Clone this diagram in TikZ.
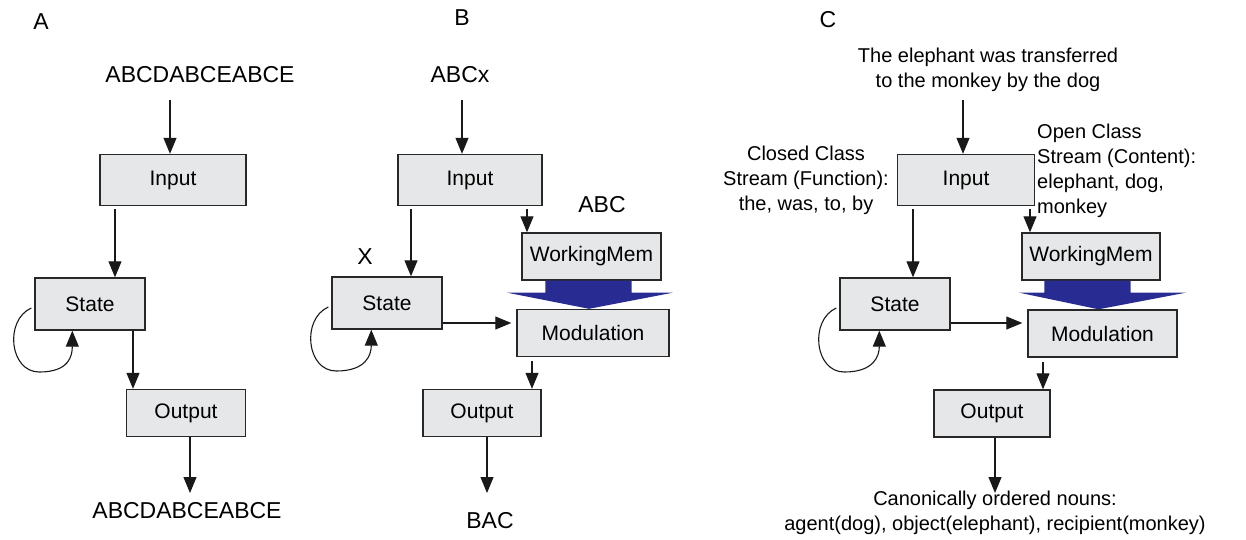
\documentclass[tikz,border=0pt]{standalone}
\usepackage{fontspec}
\setmainfont{Liberation Sans}
\usetikzlibrary{arrows.meta,calc}
\definecolor{boxfill}{RGB}{230,231,232}
\definecolor{boxline}{RGB}{40,40,40}
\definecolor{flowblue}{RGB}{40,44,146}
\begin{document}
\begin{tikzpicture}[x=1pt,y=-1pt,
  box/.style={draw=boxline,line width=1.4pt,fill=boxfill,minimum height=47pt,
    inner sep=0pt,font=\fontsize{21}{25}\selectfont},
  arr/.style={draw=black!90,line width=1.1pt,-{Triangle[length=16pt,width=13pt]}},
  seq/.style={font=\fontsize{23}{27}\selectfont,inner sep=0pt},
  note/.style={font=\fontsize{20}{25}\selectfont,inner sep=0pt,align=center},
  panel/.style={font=\fontsize{23}{27}\selectfont,inner sep=0pt},
  flow/.style={fill=flowblue}]
\useasboundingbox (0,0) rectangle (1246,539);

% ---------------- A: simple recurrent net ----------------
\node[panel] (labA) at (41,22) {A};
\node[seq] (seqA) at (200,75) {ABCDABCEABCE};
\node[box,minimum width=146pt,minimum height=51pt] (inA) at (173,180) {Input};
\node[box,minimum width=110pt,minimum height=52pt] (stA) at (90,304) {State};
\node[box,minimum width=119pt] (outA) at (186,413) {Output};
\node[seq] (resA) at (187,511) {ABCDABCEABCE};

\coordinate (tA) at (170,100);
\coordinate (xA1) at (115,0);
\coordinate (xA2) at (133,0);
\coordinate (xA3) at (190,0);
\coordinate (hA) at (190,493);
\draw[arr] (tA) -- (inA.north -| tA);
\draw[arr,shorten <=3pt] (inA.south -| xA1) -- (stA.north -| xA1);
\draw[arr] (stA.south -| xA2) -- (outA.north -| xA2);
\draw[arr] (outA.south -| xA3) -- (hA);
\draw[arr] ([xshift=-3pt,yshift=-4pt]stA.west) .. controls +(-27,12) and +(-30,0) .. ++(8,64)
  .. controls +(30,0) and +(0,25) .. ([xshift=38pt]stA.south west);

% ---------------- B: working memory modulation ----------------
\node[panel] (labB) at (462,18) {B};
\node[seq] (seqB) at (460,75) {ABCx};
\node[box,minimum width=144pt,minimum height=51pt] (inB) at (470,180) {Input};
\node[box,minimum width=110pt,minimum height=52pt] (stB) at (387,303) {State};
\node[box,minimum width=139pt] (wmB) at (591.5,256.5) {WorkingMem};
\node[box,minimum width=152pt] (modB) at (593,333) {Modulation};
\node[box,minimum width=118pt] (outB) at (482,413) {Output};
\node[seq] (resB) at (490,521) {BAC};
\node[seq] (xB) at (365,257) {X};
\node[seq] (abcB) at (602,205) {ABC};

\coordinate (tB) at (462,100);
\coordinate (xB1) at (411,0);
\coordinate (xB2) at (527,0);
\coordinate (yB3) at (0,323);
\coordinate (xB4) at (532,0);
\coordinate (xB5) at (487,0);
\coordinate (hB) at (487,493);
\draw[arr] (tB) -- (inB.north -| tB);
\draw[arr,shorten <=3pt] (inB.south -| xB1) -- (stB.north -| xB1);
\draw[arr,shorten <=3pt] (inB.south -| xB2) -- (wmB.north -| xB2);
\draw[arr,shorten >=5pt] (stB.east |- yB3) -- (modB.west |- yB3);
\draw[arr,shorten <=4pt] (modB.south -| xB4) -- (outB.north -| xB4);
\draw[arr] (outB.south -| xB5) -- (hB);
\draw[arr] ([xshift=-3pt,yshift=-4pt]stB.west) .. controls +(-27,12) and +(-30,0) .. ++(8,64)
  .. controls +(30,0) and +(0,25) .. ([xshift=40pt]stB.south west);
\fill[flow] ($(wmB.south west)+(24,0)$) -- ++(0,12) -- ++(-38,0)
  -- ([xshift=-4pt]modB.north) -- ($(wmB.south east)+(11,12)$) -- ++(-41,0)
  -- ++(0,-12) -- cycle;

% ---------------- C: sentence processing ----------------
\node[panel] (labC) at (828,20) {C};
\node[note] (sentC) at (988,70) {The elephant was transferred\\to the monkey by the dog};
\node[note] (closedC) at (806,180) {Closed Class\\Stream (Function):\\the, was, to, by};
\node[note,align=left,anchor=west] (openC) at (1037,171) {Open Class\\Stream (Content):\\elephant, dog,\\monkey};
\node[box,minimum width=137pt,minimum height=51pt] (inC) at (966,180) {Input};
\node[box,minimum width=110pt,minimum height=52pt] (stC) at (895,304) {State};
\node[box,minimum width=138pt] (wmC) at (1091,256.5) {WorkingMem};
\node[box,minimum width=149pt] (modC) at (1102.5,333.5) {Modulation};
\node[box,minimum width=116pt] (outC) at (992,413.5) {Output};
\node[note] (resC) at (995,513) {Canonically ordered nouns:\\agent(dog), object(elephant), recipient(monkey)};

\coordinate (tC) at (963,100);
\coordinate (xC1) at (913,0);
\coordinate (xC2) at (1030,0);
\coordinate (yC3) at (0,323);
\coordinate (xC4) at (1043,0);
\coordinate (xC5) at (995,0);
\coordinate (hC) at (995,493);
\draw[arr] (tC) -- (inC.north -| tC);
\draw[arr,shorten <=3pt] (inC.south -| xC1) -- (stC.north -| xC1);
\draw[arr,shorten <=3pt] (inC.south -| xC2) -- (wmC.north -| xC2);
\draw[arr,shorten >=5pt] (stC.east |- yC3) -- (modC.west |- yC3);
\draw[arr,shorten <=4pt] (modC.south -| xC4) -- (outC.north -| xC4);
\draw[arr] (outC.south -| xC5) -- (hC);
\draw[arr] ([xshift=-3pt,yshift=-4pt]stC.west) .. controls +(-27,12) and +(-30,0) .. ++(8,64)
  .. controls +(30,0) and +(0,25) .. ([xshift=40pt]stC.south west);
\fill[flow] ($(wmC.south west)+(23,0)$) -- ++(0,12) -- ++(-25,0)
  -- ([xshift=-4pt]modC.north) -- ($(wmC.south east)+(25,12)$) -- ++(-55,0)
  -- ++(0,-12) -- cycle;
\end{tikzpicture}
\end{document}
